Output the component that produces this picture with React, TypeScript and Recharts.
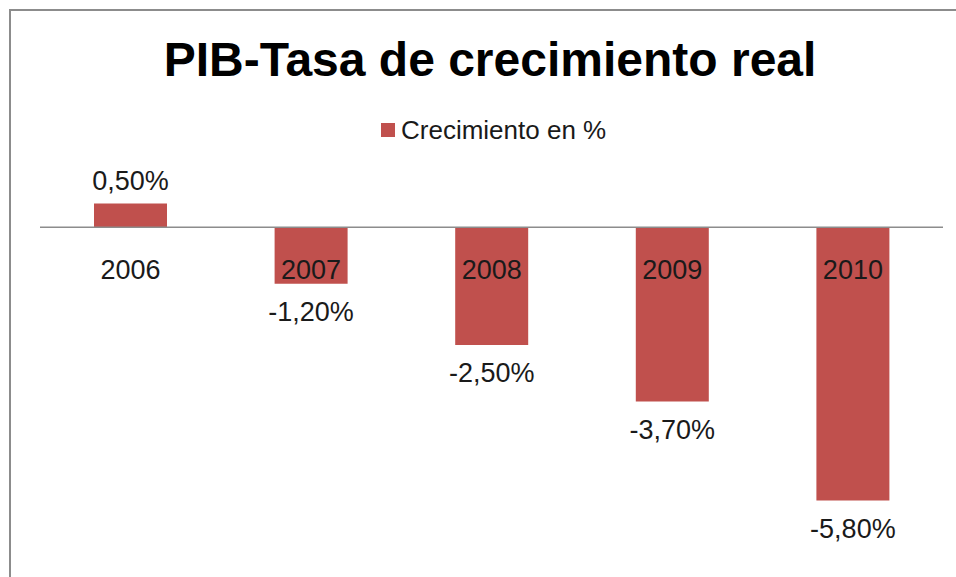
import { BarChart, Bar, XAxis, YAxis, ReferenceLine, LabelList } from 'recharts';

const years = ['2006', '2007', '2008', '2009', '2010'];
const growth = [0.5, -1.2, -2.5, -3.7, -5.8];

const chartData = years.map((year, i) => ({ year, value: growth[i] }));

const FONT = '"Liberation Sans", Arial, sans-serif';
const BAR_COLOR = '#c0504d';

const fmt = (v: number) => v.toFixed(2).replace('.', ',') + '%';

function ValueLabel(props: any) {
  const { x, y, width, height, value } = props;
  const cx = x + width / 2;
  const top = Math.min(y, y + height);
  const bottom = Math.max(y, y + height);
  const ty = value >= 0 ? top - 23 : bottom + 28;
  return (
    <text x={cx} y={ty} textAnchor="middle" dominantBaseline="central" fontSize={27} fontFamily={FONT} fill="#1a1a1a">
      {fmt(value)}
    </text>
  );
}

function YearLabel(props: any) {
  const { x, y, width, height, value } = props;
  const zero = y + height;
  return (
    <text x={x + width / 2} y={zero + 43} textAnchor="middle" dominantBaseline="central" fontSize={27} fontFamily={FONT} fill="#1a1a1a">
      {value}
    </text>
  );
}

export default function App() {
  return (
    <div style={{ position: 'fixed', left: 0, top: 0, width: 956, height: 577, overflow: 'hidden', background: '#fff' }}>
      <div style={{ position: 'absolute', left: 9, top: 9, width: 960, height: 2, background: '#8c8c8c' }} />
      <div style={{ position: 'absolute', left: 9, top: 9, width: 2, height: 580, background: '#8c8c8c' }} />
      <div
        style={{
          position: 'absolute',
          left: 0,
          top: 30,
          width: 980,
          textAlign: 'center',
          fontFamily: FONT,
          fontWeight: 'bold',
          fontSize: 48,
          lineHeight: '60px',
          color: '#000',
        }}
      >
        PIB-Tasa de crecimiento real
      </div>
      <div
        style={{
          position: 'absolute',
          left: 381,
          top: 112,
          display: 'flex',
          alignItems: 'center',
          fontFamily: FONT,
          fontSize: 26,
          lineHeight: '36px',
          color: '#1a1a1a',
        }}
      >
        <span style={{ display: 'inline-block', width: 14, height: 14, background: BAR_COLOR, marginRight: 6 }} />
        Crecimiento en %
      </div>
      <div style={{ position: 'absolute', left: 0, top: 0 }}>
        <BarChart width={956} height={577} data={chartData} margin={{ top: 180, right: 13, left: 40, bottom: 67 }} barSize={73}>
          <XAxis dataKey="year" hide />
          <YAxis hide domain={[-6, 1]} />
          <Bar dataKey="value" fill={BAR_COLOR} isAnimationActive={false}>
            <LabelList dataKey="year" content={YearLabel} />
            <LabelList dataKey="value" content={ValueLabel} />
          </Bar>
          <ReferenceLine y={0} stroke="#8c8c8c" strokeWidth={1.5} />
        </BarChart>
      </div>
    </div>
  );
}
